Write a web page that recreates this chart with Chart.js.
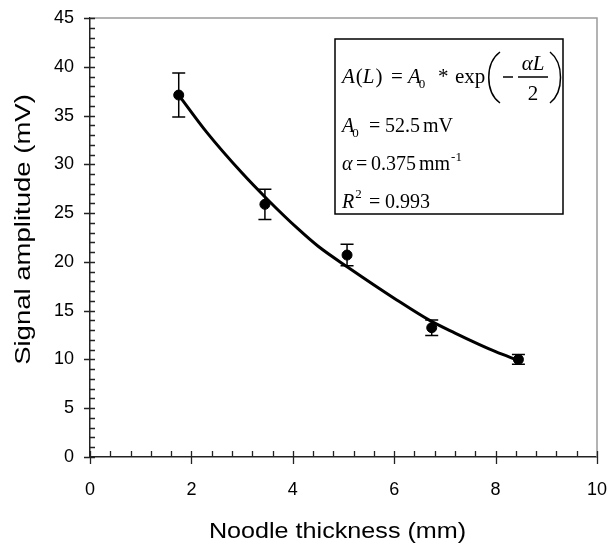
<!DOCTYPE html>
<html>
<head>
<meta charset="utf-8">
<script src="https://cdn.jsdelivr.net/npm/chart.js@4.4.1/dist/chart.umd.min.js"></script>
<style>
    html, body { margin: 0; padding: 0; background: #fff; }
    #wrap { width: 610px; height: 546px; }
</style>
</head>
<body>
<div id="wrap"><canvas id="chart" width="610" height="546"></canvas></div>
<script>
// measured points (mm, mV) and their error bars
const thickness = [1.75, 3.45, 5.07, 6.74, 8.45];
const amplitude = [37.1, 25.9, 20.7, 13.25, 10.0];
const amplitudeErr = [2.25, 1.55, 1.1, 0.8, 0.5];

// fitted curve
const fitX = [1.75, 2.3, 3.0, 3.5, 4.1, 4.5, 5.1, 6.05, 6.7, 7.2, 7.65, 8.0, 8.45];
const fitY = [37.1, 33.3, 29.1, 26.4, 23.4, 21.6, 19.4, 16.1, 14.0, 12.7, 11.6, 10.8, 9.9];

const xMin = 0, xMax = 10, xStep = 2, xMinor = 0.4;
const yMin = 0, yMax = 45, yStep = 5, yMinor = 1;

const xTitle = 'Noodle thickness (mm)';
const yTitle = 'Signal amplitude (mV)';

const sans = '"Liberation Sans", Arial, sans-serif';
const serif = '"Liberation Serif", "Times New Roman", serif';

const canvas = document.getElementById('chart');

// axis ticks, frame, error bars, titles, fit box
const decorPlugin = {
    id: 'decor',
    beforeDatasetsDraw(chart) {
        const ctx = chart.ctx;
        const x = chart.scales.x;
        const y = chart.scales.y;
        const area = chart.chartArea;
        ctx.save();

        // gray frame top + right
        ctx.strokeStyle = '#9a9a9a';
        ctx.lineWidth = 1.5;
        ctx.beginPath();
        ctx.moveTo(area.left, area.top);
        ctx.lineTo(area.right, area.top);
        ctx.lineTo(area.right, area.bottom);
        ctx.stroke();

        // error bars
        ctx.strokeStyle = '#000';
        ctx.lineWidth = 1.5;
        thickness.forEach((t, i) => {
            const px = x.getPixelForValue(t);
            const hi = y.getPixelForValue(amplitude[i] + amplitudeErr[i]);
            const lo = y.getPixelForValue(amplitude[i] - amplitudeErr[i]);
            ctx.beginPath();
            ctx.moveTo(px, hi); ctx.lineTo(px, lo);
            ctx.moveTo(px - 6.5, hi); ctx.lineTo(px + 6.5, hi);
            ctx.moveTo(px - 6.5, lo); ctx.lineTo(px + 6.5, lo);
            ctx.stroke();
        });

        // tick marks
        ctx.strokeStyle = '#222';
        ctx.lineWidth = 1.3;
        ctx.beginPath();
        for (let v = xMin; v <= xMax + 1e-6; v += xMinor) {
            const px = Math.round(x.getPixelForValue(v)) + 0.5;
            const major = Math.abs(v / xStep - Math.round(v / xStep)) < 1e-6;
            ctx.moveTo(px, area.bottom - 6);
            ctx.lineTo(px, area.bottom + (major ? 7 : 0));
        }
        for (let v = yMin; v <= yMax + 1e-6; v += yMinor) {
            const py = Math.round(y.getPixelForValue(v)) + 0.5;
            const major = Math.abs(v / yStep - Math.round(v / yStep)) < 1e-6;
            ctx.moveTo(area.left - (major ? 6 : 0), py);
            ctx.lineTo(area.left + 5, py);
        }
        ctx.stroke();
        ctx.restore();
    },
    afterDraw(chart) {
        const ctx = chart.ctx;
        const area = chart.chartArea;
        ctx.save();
        ctx.fillStyle = '#000';
        ctx.strokeStyle = '#000';

        // axis titles (the source lettering is a bit wide, so stretch it)
        ctx.font = '21.5px ' + sans;
        ctx.textAlign = 'center';
        ctx.textBaseline = 'alphabetic';
        ctx.save();
        ctx.translate((area.left + area.right) / 2 - 6, 538);
        ctx.scale(1.17, 1);
        ctx.fillText(xTitle, 0, 0);
        ctx.restore();
        ctx.save();
        ctx.translate(30, (area.top + area.bottom) / 2 - 8);
        ctx.rotate(-Math.PI / 2);
        ctx.scale(1.28, 1);
        ctx.fillText(yTitle, 0, 0);
        ctx.restore();

        ctx.textAlign = 'left';

        // box with the fit
        ctx.lineWidth = 1.5;
        ctx.strokeRect(335, 39, 228, 175);

        const put = (s, px, py, font) => {
            ctx.font = font;
            ctx.fillText(s, px, py);
            return px + ctx.measureText(s).width;
        };
        const it = 'italic 21px ' + serif;
        const rm = '21px ' + serif;
        const it2 = 'italic 20px ' + serif;
        const rm2 = '20px ' + serif;
        const small = '13px ' + serif;

        // A(L) = A0 * exp(-aL/2)
        let cx = put('A', 342, 83, it);
        cx = put('(', cx + 1, 83, rm);
        cx = put('L', cx, 83, it);
        cx = put(')', cx + 1, 83, rm);
        put('=', 391, 83, rm);
        cx = put('A', 408, 83, it);
        put('0', cx - 2, 88, small);
        put('*', 438, 83, rm);
        put('exp', 455, 83, rm);
        ctx.lineWidth = 1.5;
        ctx.beginPath();
        ctx.moveTo(500, 52);
        ctx.bezierCurveTo(485, 63, 485, 92, 500, 103);
        ctx.moveTo(550, 52);
        ctx.bezierCurveTo(564, 63, 564, 92, 550, 103);
        ctx.moveTo(503, 77); ctx.lineTo(513, 77);
        ctx.moveTo(518, 77); ctx.lineTo(548, 77);
        ctx.stroke();
        ctx.textAlign = 'center';
        ctx.font = it;
        ctx.fillText('\u03B1L', 533, 70);
        ctx.font = rm;
        ctx.fillText('2', 533, 100);
        ctx.textAlign = 'left';

        // A0 = 52.5 mV
        cx = put('A', 342, 132, it2);
        put('0', cx - 2, 137, small);
        put('=', 369, 132, rm2);
        put('52.5', 385, 132, rm2);
        put('mV', 423, 132, rm2);

        // alpha = 0.375 mm^-1
        put('\u03B1', 342, 170, it2);
        put('=', 356, 170, rm2);
        cx = put('0.375', 371, 170, rm2);
        cx = put('mm', cx + 3, 170, rm2);
        put('-1', cx + 1, 161, small);

        // R^2 = 0.993
        cx = put('R', 342, 208, it2);
        put('2', cx + 1, 198, small);
        put('=', 369, 208, rm2);
        put('0.993', 385, 208, rm2);

        ctx.restore();
    }
};

new Chart(canvas, {
    data: {
        datasets: [{
            type: 'line',
            label: 'fit',
            data: fitX.map((v, i) => ({ x: v, y: fitY[i] })),
            borderColor: '#000',
            borderWidth: 3,
            pointRadius: 0,
            cubicInterpolationMode: 'monotone',
            fill: false
        }, {
            type: 'scatter',
            label: 'data',
            data: thickness.map((v, i) => ({ x: v, y: amplitude[i] })),
            backgroundColor: '#000',
            borderColor: '#000',
            pointRadius: 5,
            pointHoverRadius: 5
        }]
    },
    options: {
        responsive: false,
        animation: false,
        devicePixelRatio: 1,
        layout: { padding: { left: 0, top: 18, right: 13, bottom: 0 } },
        plugins: {
            legend: { display: false },
            tooltip: { enabled: false }
        },
        scales: {
            x: {
                type: 'linear',
                min: xMin,
                max: xMax,
                afterFit: s => {
                    s.height = 89;
                    s.paddingLeft = 0;
                    s.paddingRight = 0;
                },
                grid: { display: false, drawTicks: false },
                border: { display: true, color: '#222', width: 1.5 },
                ticks: {
                    stepSize: xStep,
                    padding: 22,
                    maxRotation: 0,
                    color: '#000',
                    font: { family: sans, size: 18 }
                }
            },
            y: {
                type: 'linear',
                min: yMin,
                max: yMax,
                afterFit: s => {
                    s.width = 90;
                    s.paddingTop = 0;
                    s.paddingBottom = 0;
                },
                grid: { display: false, drawTicks: false },
                border: { display: true, color: '#222', width: 1.5 },
                ticks: {
                    stepSize: yStep,
                    padding: 16,
                    color: '#000',
                    font: { family: sans, size: 18 }
                }
            }
        }
    },
    plugins: [decorPlugin]
});
</script>
</body>
</html>
